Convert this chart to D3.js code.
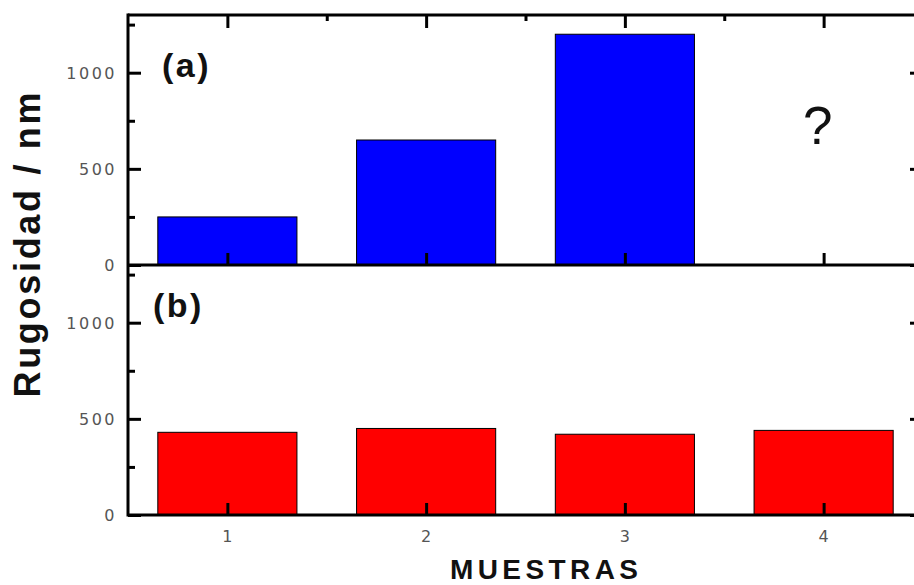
<!DOCTYPE html>
<html>
<head>
<meta charset="utf-8">
<script src="https://cdn.jsdelivr.net/npm/d3@7"></script>
<style>
  html, body { margin: 0; padding: 0; background: #fff; }
  svg { display: block; }
</style>
</head>
<body>
<svg id="chart" width="914" height="585"></svg>
<script>
// Sample numbers and roughness (nm) for the two series
const muestras = [1, 2, 3, 4];
const rugosidadA = [250, 650, 1200, null]; // sample 4 unknown
const rugosidadB = [430, 450, 420, 440];
const yTicksMajor = [0, 500, 1000];
const yTicksMinor = [250, 750, 1250];
const xTickLabels = ["1", "2", "3", "4"];
const panelLabels = ["(a)", "(b)"];
const unknownMark = "?";
const yTitle = "Rugosidad / nm";
const xTitle = "MUESTRAS";

const svg = d3.select("#chart");
const left = 128, right = 923;
const panelTop = [15, 265], panelBottom = [265, 515];

const x = d3.scaleLinear().domain([0.5, 4.5]).range([left, right]);
const barW = x(1.35) - x(0.65);

const panels = [
  { values: rugosidadA, color: "#0000ff", label: panelLabels[0], lx: 162, ly: 77 },
  { values: rugosidadB, color: "#ff0000", label: panelLabels[1], lx: 153, ly: 317 }
];

function styleTicks(sel) {
  sel.select(".domain").remove();
  sel.selectAll("line").attr("stroke", "#000").attr("stroke-width", 3);
}

panels.forEach((p, i) => {
  const y = d3.scaleLinear().domain([0, 1300]).range([panelBottom[i], panelTop[i]]);
  const g = svg.append("g");

  // bars
  g.selectAll("rect.bar")
    .data(muestras.map((m, k) => ({ m, v: p.values[k] })).filter(d => d.v != null))
    .join("rect")
    .attr("class", "bar")
    .attr("x", d => x(d.m) - barW / 2)
    .attr("y", d => y(d.v))
    .attr("width", barW)
    .attr("height", d => y(0) - y(d.v))
    .attr("fill", p.color)
    .attr("stroke", "#000")
    .attr("stroke-width", 1);

  // left axis: ticks inward
  g.append("g").attr("transform", `translate(${left},0)`)
    .call(d3.axisRight(y).tickValues(yTicksMajor).tickSize(13).tickFormat(""))
    .call(styleTicks);
  g.append("g").attr("transform", `translate(${left},0)`)
    .call(d3.axisRight(y).tickValues(yTicksMinor).tickSize(7).tickFormat(""))
    .call(styleTicks);

  // right axis: ticks inward
  g.append("g").attr("transform", `translate(${right},0)`)
    .call(d3.axisLeft(y).tickValues(yTicksMajor).tickSize(13).tickFormat(""))
    .call(styleTicks);

  // y tick labels
  g.selectAll("text.ylab")
    .data(yTicksMajor)
    .join("text")
    .attr("class", "ylab")
    .attr("x", 117)
    .attr("y", d => y(d))
    .attr("dy", "0.37em")
    .attr("text-anchor", "end")
    .attr("font-family", "'DejaVu Sans', sans-serif")
    .attr("font-size", 16)
    .attr("letter-spacing", 2.5)
    .attr("fill", "#555")
    .text(d => d);

  // bottom-edge x ticks (pointing up)
  g.append("g").attr("transform", `translate(0,${panelBottom[i]})`)
    .call(d3.axisTop(x).tickValues(muestras).tickSize(12).tickFormat(""))
    .call(styleTicks);

  // panel label
  g.append("text")
    .attr("x", p.lx).attr("y", p.ly)
    .attr("font-family", "'Liberation Sans', Arial, sans-serif")
    .attr("font-weight", "bold")
    .attr("font-size", 34)
    .attr("letter-spacing", 2.5)
    .attr("fill", "#111")
    .text(p.label);

  // unknown value marker
  p.values.forEach((v, k) => {
    if (v == null) {
      g.append("text")
        .attr("x", x(muestras[k]) - 6).attr("y", 144)
        .attr("text-anchor", "middle")
        .attr("font-family", "'Liberation Sans', Arial, sans-serif")
        .attr("font-size", 53)
        .attr("fill", "#111")
        .text(unknownMark);
    }
  });
});

// top edge x ticks (pointing down), major and minor
svg.append("g").attr("transform", `translate(0,${panelTop[0]})`)
  .call(d3.axisBottom(x).tickValues(muestras).tickSize(13).tickFormat(""))
  .call(styleTicks);
svg.append("g").attr("transform", `translate(0,${panelTop[0]})`)
  .call(d3.axisBottom(x).tickValues([1.5, 2.5, 3.5]).tickSize(6).tickFormat(""))
  .call(styleTicks);

// frame lines
const frame = svg.append("g").attr("stroke", "#000").attr("stroke-width", 3).attr("fill", "none");
frame.append("line").attr("x1", left).attr("x2", left).attr("y1", panelTop[0] - 1.5).attr("y2", panelBottom[1] + 1.5);
frame.append("line").attr("x1", right).attr("x2", right).attr("y1", panelTop[0] - 1.5).attr("y2", panelBottom[1] + 1.5);
[panelTop[0], panelBottom[0], panelBottom[1]].forEach(yy =>
  frame.append("line").attr("x1", left).attr("x2", right).attr("y1", yy).attr("y2", yy));

// x tick labels
svg.selectAll("text.xlab")
  .data(muestras)
  .join("text")
  .attr("class", "xlab")
  .attr("x", d => x(d))
  .attr("y", 542)
  .attr("text-anchor", "middle")
  .attr("font-family", "'DejaVu Sans', sans-serif")
  .attr("font-size", 16)
  .attr("fill", "#555")
  .text((d, k) => xTickLabels[k]);

// axis titles
svg.append("text")
  .attr("transform", "translate(40,245) rotate(-90)")
  .attr("text-anchor", "middle")
  .attr("font-family", "'Liberation Sans', Arial, sans-serif")
  .attr("font-weight", "bold")
  .attr("font-size", 36)
  .attr("textLength", 305)
  .attr("lengthAdjust", "spacing")
  .attr("fill", "#111")
  .text(yTitle);

svg.append("text")
  .attr("x", 544).attr("y", 579)
  .attr("text-anchor", "middle")
  .attr("font-family", "'Liberation Sans', Arial, sans-serif")
  .attr("font-weight", "bold")
  .attr("font-size", 28)
  .attr("textLength", 188)
  .attr("lengthAdjust", "spacing")
  .attr("fill", "#111")
  .text(xTitle);
</script>
</body>
</html>
